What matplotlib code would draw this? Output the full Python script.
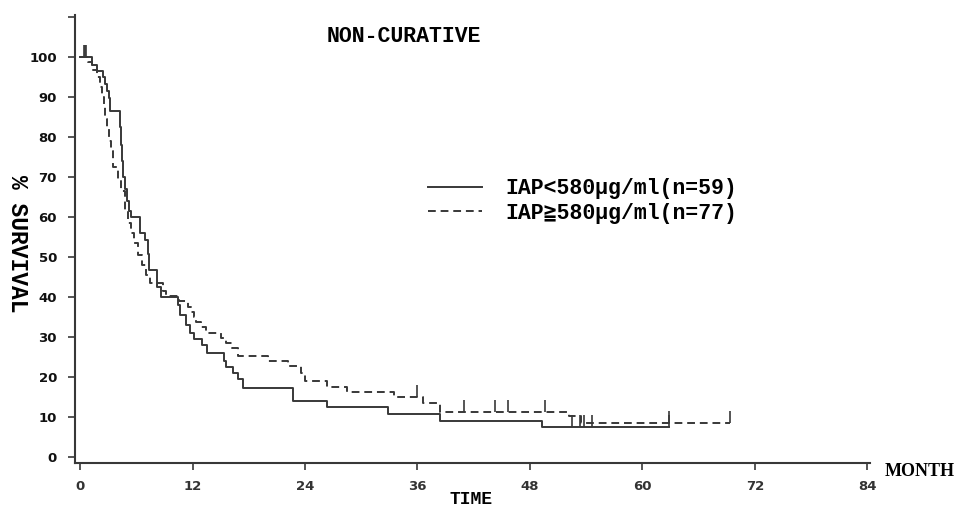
import matplotlib.pyplot as plt
import numpy as np

# Kaplan-Meier steps (month, % survival after the step)
low_t = [0, 1.3, 1.8, 2.4, 2.7, 2.9, 3.05, 3.2, 4.3, 4.4, 4.5, 4.6, 4.8, 5.0,
         5.2, 5.4, 6.4, 6.9, 7.2, 7.4, 8.2, 8.6, 10.4, 10.7, 11.3, 11.7, 12.1,
         13.0, 13.5, 15.3, 15.6, 16.3, 16.9, 17.4, 22.7, 26.3, 32.9, 38.4, 49.3]
low_s = [100, 98, 96.5, 95, 93.2, 91.5, 89.8, 86.4, 82.5, 78, 74, 70, 67, 64,
         61.5, 60.0, 55.9, 54.2, 50.8, 46.8, 42.5, 40.0, 38.0, 35.5, 33.0,
         31.0, 29.5, 28.0, 26.0, 24.0, 22.5, 21.0, 19.5, 17.3, 14.0, 12.5, 10.8,
         9.0, 7.5]
low_end = 62.9
low_cens = [0.4, 0.6, 52.5, 53.4, 53.8, 54.6, 62.9]

high_t = [0, 0.85, 1.3, 1.8, 2.1, 2.35, 2.5, 2.7, 2.9, 3.1, 3.3, 3.5, 4.0, 4.4,
          4.8, 5.1, 5.4, 5.7, 6.2, 6.6, 7.0, 7.5, 8.8, 9.2, 10.5, 11.5, 11.8,
          12.1, 12.4, 12.9, 13.4, 15.0, 15.6, 16.2, 16.8, 20.0, 22.2, 23.6, 24.0,
          26.3, 28.5, 33.5, 36.6, 38.4, 52.2, 53.5]
high_s = [100, 98.7, 96.7, 95, 92.5, 90, 87.5, 84.5, 82, 79, 76.5, 72.5, 69.5,
          66.5, 61.5, 58.5, 56, 53.5, 50.5, 48, 45.5, 43.5, 41.5, 40.2, 38.9,
          37.6, 36.3, 35.0, 33.7, 32.4, 31.1, 29.8, 28.5, 27.2, 25.3, 24.0, 22.7,
          21.0, 19.0, 17.5, 16.3, 15.0, 13.5, 11.3, 10.2, 8.6]
high_end = 69.4
high_cens = [0.5, 36.0, 41.0, 44.3, 45.7, 49.6, 62.9, 69.4]

labels = ['IAP<580μg/ml(n=59)', 'IAP≧580μg/ml(n=77)']
x_ticks = [0, 12, 24, 36, 48, 60, 72, 84]
y_ticks = [0, 10, 20, 30, 40, 50, 60, 70, 80, 90, 100, 110]

ink = '#383838'
mono = ['Liberation Mono', 'DejaVu Sans Mono', 'Noto Sans CJK JP']

fig = plt.figure(figsize=(9.57, 5.09), dpi=100)
ax = fig.add_axes([75 / 957, 1 - 463 / 509, 795 / 957, 448 / 509])


def km(t, s, end):
    return np.append(t, end), np.append(s, s[-1])


def cens_y(t, s, ct):
    idx = np.searchsorted(t, ct, side='right') - 1
    return np.asarray(s)[idx]


lt, ls = km(low_t, low_s, low_end)
ht, hs = km(high_t, high_s, high_end)
ax.step(lt, ls, where='post', color=ink, lw=1.4, label=labels[0])
ax.step(ht, hs, where='post', color=ink, lw=1.4, ls=(0, (4, 2.5)),
        label=labels[1])

ly = cens_y(low_t, low_s, low_cens)
ax.vlines(low_cens, ly, ly + 3, color=ink, lw=1.2)
hy = cens_y(high_t, high_s, high_cens)
ax.vlines(high_cens, hy, hy + 3, color=ink, lw=1.2)

ax.set_xlim(-0.55, 84.3)
ax.set_ylim(-1.5, 110.5)
for side in ['top', 'right']:
    ax.spines[side].set_visible(False)
for side in ['left', 'bottom']:
    ax.spines[side].set_color(ink)
    ax.spines[side].set_linewidth(1.5)

ax.set_xticks(x_ticks)
ax.set_xticklabels([str(v) for v in x_ticks], fontweight='bold', fontsize=9.5,
                   color='#333333')
ax.set_yticks(y_ticks)
ax.set_yticklabels([str(v) if v <= 100 else '' for v in y_ticks],
                   fontweight='bold', fontsize=9.5, color='#111111')
ax.tick_params(axis='both', direction='out', length=5, width=1.2, color=ink)
ax.tick_params(axis='x', pad=7)
ax.tick_params(axis='y', pad=8)

ax.set_ylabel('% SURVIVAL', family=mono, fontweight='bold', fontsize=16.5,
              rotation=270, va='center')
ax.yaxis.set_label_coords(-0.072, 0.49)

fig.text(471 / 957, 1 - 499 / 509, 'TIME', family=mono, fontweight='bold',
         fontsize=13, ha='center', va='center')
fig.text(920 / 957, 1 - 471 / 509, 'MONTH', family='Liberation Serif',
         fontweight='bold', fontsize=13, ha='center', va='center')
fig.text(404 / 957, 1 - 36 / 509, 'NON-CURATIVE', family=mono,
         fontweight='bold', fontsize=15.5, ha='center', va='center')

ax.legend(loc='center left', bbox_to_anchor=(428 / 957, 1 - 201 / 509),
          bbox_transform=fig.transFigure, frameon=False, borderpad=0,
          borderaxespad=0, handlelength=2.5, handletextpad=1.1,
          labelspacing=0.15, prop={'family': mono, 'weight': 'bold',
                                   'size': 15.5})

fig.savefig('out.png', dpi=100)
